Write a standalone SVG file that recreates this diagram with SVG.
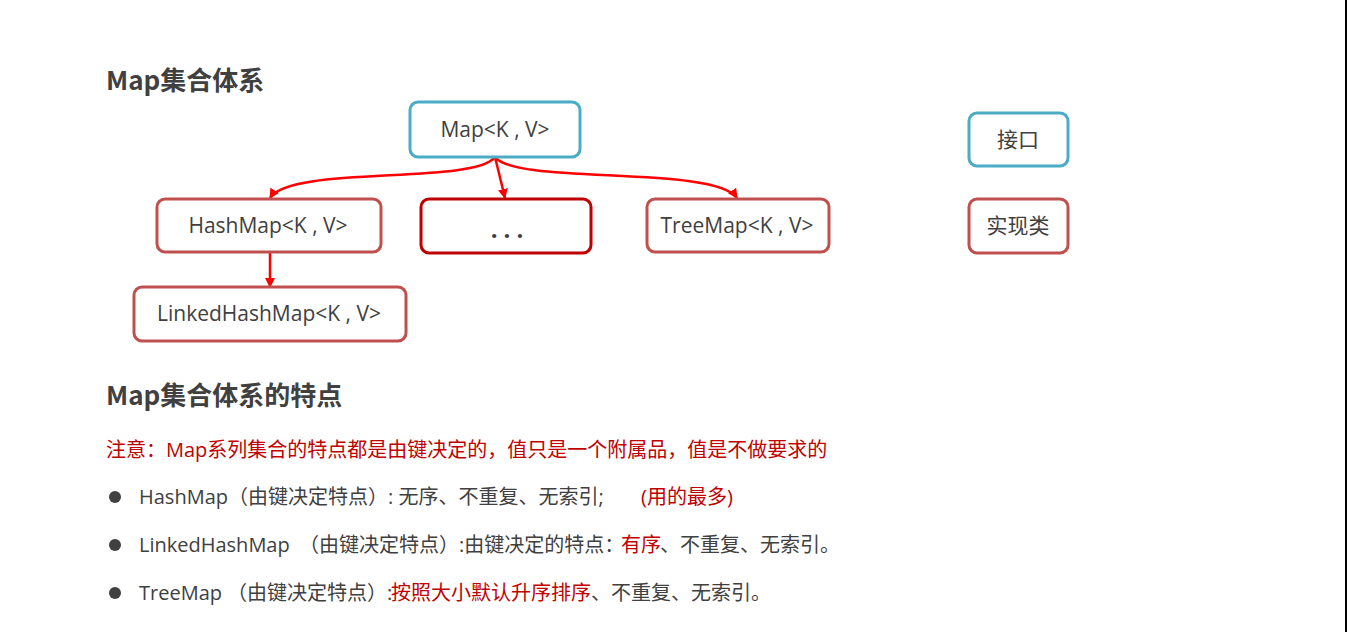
<svg xmlns="http://www.w3.org/2000/svg" width="1347" height="632" viewBox="0 0 1347 632">
<style>
.box{fill:#fff;stroke-width:3}
.iface{stroke:#4BACC6}
.impl{stroke:#C0504D}
.dark{stroke:#C00000}
.lbl{font-family:"Open Sans","Noto Sans CJK SC",sans-serif;font-size:21px;fill:#404040;text-anchor:middle}
.h{font-family:"Noto Sans CJK SC","Open Sans",sans-serif;font-weight:bold;font-size:26px;fill:#404040}
.t{font-family:"Open Sans","Noto Sans CJK SC",sans-serif;font-size:20px;fill:#404040}
.r{fill:#C00000}
.conn{fill:none;stroke:#FF0000;stroke-width:2.5;marker-end:url(#ah)}
</style>
<defs>
<marker id="ah" viewBox="0 0 10 10" refX="9" refY="5" markerWidth="4" markerHeight="4" orient="auto" markerUnits="strokeWidth">
<path d="M0,0 L10,5 L0,10 z" fill="#FF0000"/>
</marker>
</defs>
<rect width="1347" height="632" fill="#fff"/>
<rect x="1345" y="0" width="2" height="632" fill="#000"/>

<text class="h" x="106" y="90">Map集合体系</text>

<g id="connectors">
<path class="conn" d="M495,157 C475,185 290,165 270,198"/>
<path class="conn" d="M495,157 L505,198"/>
<path class="conn" d="M495,157 C515,185 715,165 737,198"/>
<path class="conn" d="M270,252 L270,287"/>
</g>

<g id="map">
<rect class="box iface" x="410" y="102" width="170" height="55" rx="8"/>
<text class="lbl" x="495" y="137">Map&lt;K , V&gt;</text>
</g>
<g id="hashmap">
<rect class="box impl" x="157" y="199" width="224" height="53" rx="8"/>
<text class="lbl" x="268" y="233">HashMap&lt;K , V&gt;</text>
</g>
<g id="etc">
<rect class="box dark" x="421" y="199" width="170" height="54" rx="8"/>
<text class="lbl" x="510" y="238" style="font-weight:bold;font-size:24px;letter-spacing:6px">...</text>
</g>
<g id="treemap">
<rect class="box impl" x="647" y="199" width="182" height="53" rx="8"/>
<text class="lbl" x="737" y="233">TreeMap&lt;K , V&gt;</text>
</g>
<g id="linkedhashmap">
<rect class="box impl" x="134" y="287" width="272" height="54" rx="8"/>
<text class="lbl" x="269" y="321">LinkedHashMap&lt;K , V&gt;</text>
</g>
<g id="legend-interface">
<rect class="box iface" x="969" y="113" width="99" height="53" rx="8"/>
<text class="lbl" x="1018" y="147">接口</text>
</g>
<g id="legend-impl">
<rect class="box impl" x="969" y="199" width="99" height="54" rx="8"/>
<text class="lbl" x="1018" y="233">实现类</text>
</g>

<text class="h" x="106" y="405">Map集合体系的特点</text>

<text class="t r" x="106" y="457">注意：Map系列集合的特点都是由键决定的，值只是一个附属品，值是不做要求的</text>

<circle cx="115" cy="497" r="6" fill="#404040"/>
<text class="t" x="139" y="504">HashMap（由键决定特点）: 无序、不重复、无索引;</text>
<text class="t r" x="641" y="504">(用的最多)</text>

<circle cx="115" cy="545" r="6" fill="#404040"/>
<text class="t" x="139" y="552">LinkedHashMap</text>
<text class="t" x="299" y="552">（由键决定特点）:由键决定的特点：</text>
<text class="t r" x="621" y="552">有序</text>
<text class="t" x="660" y="552">、不重复、无索引。</text>

<circle cx="115" cy="593" r="6" fill="#404040"/>
<text class="t" x="139" y="600">TreeMap</text>
<text class="t" x="227" y="600">（由键决定特点）:</text>
<text class="t r" x="391" y="600">按照大小默认升序排序</text>
<text class="t" x="591" y="600">、不重复、无索引。</text>
</svg>
